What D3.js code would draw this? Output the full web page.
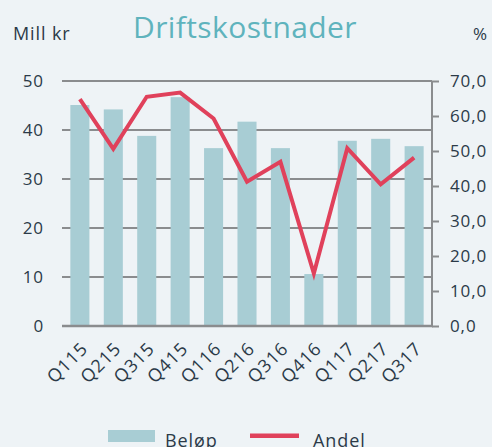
<!DOCTYPE html>
<html>
<head>
<meta charset="utf-8">
<script src="https://cdn.jsdelivr.net/npm/d3@7"></script>
<style>
  body { margin: 0; background: #eef3f6; }
  text { font-family: "Open Sans", sans-serif; fill: #2b3a48; letter-spacing: 0.9px; }
</style>
</head>
<body>
<svg id="chart" width="492" height="447"></svg>
<script>
var quarters = ["Q115","Q215","Q315","Q415","Q116","Q216","Q316","Q416","Q117","Q217","Q317"];
var belop = [45.1, 44.2, 38.8, 46.7, 36.3, 41.7, 36.3, 10.6, 37.8, 38.2, 36.7];
var andel = [64.8, 50.6, 65.5, 66.7, 59.3, 41.2, 46.9, 15.0, 50.8, 40.5, 48.1];
var leftTicks = [0, 10, 20, 30, 40, 50];
var rightTicks = [0, 10, 20, 30, 40, 50, 60, 70];

var plotL = 62, plotR = 432, plotT = 81, plotB = 326;

var svg = d3.select("#chart");
svg.append("rect").attr("width", 492).attr("height", 447).attr("fill", "#eef3f6");

var x = d3.scaleBand().domain(quarters).range([plotL, plotR]).paddingInner(0.43).paddingOuter(0.25);
var y = d3.scaleLinear().domain([0, 50]).range([plotB, plotT]);
var y2 = d3.scaleLinear().domain([0, 70]).range([plotB, plotT]);

// grid
svg.append("g").selectAll("line").data(leftTicks).enter().append("line")
  .attr("x1", plotL).attr("x2", plotR)
  .attr("y1", function(d) { return y(d); })
  .attr("y2", function(d) { return y(d); })
  .attr("stroke", "#8a8c8e").attr("stroke-width", 2);

// left labels
var yAxis = d3.axisLeft(y).tickValues(leftTicks).tickSize(0).tickPadding(0);
var gl = svg.append("g").attr("transform", "translate(" + (plotL - 18) + ",0)").call(yAxis);
gl.select(".domain").remove();
gl.selectAll("text").style("font-size", "17px").attr("fill", "#2b3a48").style("font-family", "Open Sans");

// bars
svg.append("g").selectAll("rect").data(belop).enter().append("rect")
  .attr("x", function(d, i) { return x(quarters[i]); })
  .attr("width", x.bandwidth())
  .attr("y", function(d) { return y(d); })
  .attr("height", function(d) { return plotB - y(d); })
  .attr("fill", "#a8cdd4");

// right axis
var yAxis2 = d3.axisRight(y2).tickValues(rightTicks).tickSize(7).tickPadding(11)
  .tickFormat(function(d) { return d3.format(".1f")(d).replace(".", ","); });
var gr = svg.append("g").attr("transform", "translate(" + plotR + ",0)").call(yAxis2);
gr.select(".domain").attr("stroke", "#8a8c8e").attr("stroke-width", 2).attr("d", "M0," + plotT + "V" + (plotB + 1));
gr.selectAll(".tick line").attr("stroke", "#8a8c8e").attr("stroke-width", 2);
gr.selectAll("text").style("font-size", "17px").attr("fill", "#2b3a48").style("font-family", "Open Sans");

// baseline
svg.append("line").attr("x1", plotL).attr("x2", plotR + 1).attr("y1", plotB).attr("y2", plotB)
  .attr("stroke", "#8a8c8e").attr("stroke-width", 2.5);

// line
var line = d3.line()
  .x(function(d, i) { return x(quarters[i]) + x.bandwidth() / 2; })
  .y(function(d) { return y2(d); });
svg.append("path").datum(andel).attr("d", line)
  .attr("fill", "none").attr("stroke", "#e0415b").attr("stroke-width", 4).attr("stroke-linejoin", "miter");

// x labels
svg.append("g").selectAll("text").data(quarters).enter().append("text")
  .attr("transform", function(d) { return "translate(" + (x(d) + x.bandwidth() / 2) + "," + (plotB + 15) + ") rotate(-45)"; })
  .attr("text-anchor", "end")
  .attr("dy", "0.7em")
  .style("font-size", "18px")
  .text(function(d) { return d; });

// titles
svg.append("text").attr("x", 245).attr("y", 38).attr("text-anchor", "middle")
  .style("font-size", "30px").style("letter-spacing", "0.4px").style("fill", "#5fb3bd").text("Driftskostnader");
svg.append("text").attr("x", 13).attr("y", 40).style("font-size", "18px").text("Mill kr");
svg.append("text").attr("x", 473).attr("y", 40).style("font-size", "17px").text("%");

// legend
svg.append("rect").attr("x", 108).attr("y", 430).attr("width", 47).attr("height", 12).attr("fill", "#a8cdd4");
svg.append("text").attr("x", 165).attr("y", 447).style("font-size", "18px").text("Beløp");
svg.append("line").attr("x1", 250).attr("x2", 299).attr("y1", 435.7).attr("y2", 435.7)
  .attr("stroke", "#e0415b").attr("stroke-width", 4.5);
svg.append("text").attr("x", 313).attr("y", 447).style("font-size", "18px").text("Andel");
</script>
</body>
</html>
